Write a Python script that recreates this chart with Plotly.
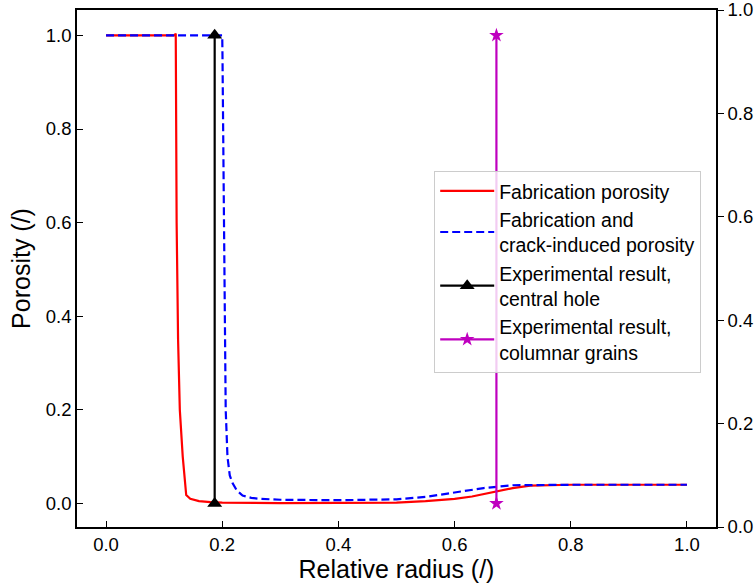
import plotly.graph_objects as go

# Fabrication porosity (red solid)
fab_r = [0.0, 0.118, 0.120, 0.1215, 0.124, 0.127, 0.132, 0.138, 0.145, 0.16, 0.18, 0.2, 0.3, 0.4,
         0.5, 0.55, 0.6, 0.63, 0.65, 0.68, 0.7, 0.73, 0.75, 0.8, 0.9, 1.0]
fab_p = [1.0, 1.0, 1.004, 0.6, 0.35, 0.2, 0.1, 0.018, 0.01, 0.005, 0.003, 0.002, 0.001, 0.001,
         0.002, 0.005, 0.01, 0.015, 0.02, 0.028, 0.033, 0.038, 0.039, 0.04, 0.04, 0.04]

# Fabrication and crack-induced porosity (blue dashed)
crack_r = [0.0, 0.2, 0.2005, 0.204, 0.206, 0.209, 0.213, 0.218, 0.225, 0.235, 0.25, 0.265, 0.3,
           0.4, 0.5, 0.55, 0.6, 0.65, 0.7, 0.75, 0.8, 0.9, 1.0]
crack_p = [1.0, 1.0, 0.95, 0.5, 0.2, 0.1, 0.06, 0.043, 0.028, 0.017, 0.012, 0.01, 0.008,
           0.007, 0.009, 0.014, 0.024, 0.033, 0.039, 0.04, 0.04, 0.04, 0.04]

# Experimental results
hole_r = [0.187, 0.187]
hole_p = [0.0, 1.0]
grain_r = [0.672, 0.672]
grain_p = [0.0, 1.0]

x_ticks = [0.0, 0.2, 0.4, 0.6, 0.8, 1.0]
y_ticks = [0.0, 0.2, 0.4, 0.6, 0.8, 1.0]

FONT = "Liberation Sans, Arial, Helvetica, sans-serif"

fig = go.Figure()
fig.add_trace(go.Scatter(x=fab_r, y=fab_p, mode="lines", name="Fabrication porosity",
                         line=dict(color="#ff0000", width=2.2)))
fig.add_trace(go.Scatter(x=crack_r, y=crack_p, mode="lines",
                         name="Fabrication and<br>crack-induced porosity",
                         line=dict(color="#0000ff", width=2.2, dash="8px,4px")))
fig.add_trace(go.Scatter(x=hole_r, y=hole_p, mode="lines+markers",
                         name="Experimental result,<br>central hole",
                         line=dict(color="#000000", width=2.2),
                         marker=dict(symbol="triangle-up", size=13, color="#000000")))
fig.add_trace(go.Scatter(x=grain_r, y=grain_p, mode="lines+markers",
                         name="Experimental result,<br>columnar grains",
                         line=dict(color="#bf00bf", width=2.2),
                         marker=dict(symbol="star", size=11, color="#bf00bf")))
# invisible trace to activate right axis
fig.add_trace(go.Scatter(x=[0], y=[0], yaxis="y2", mode="markers", showlegend=False,
                         marker=dict(opacity=0), hoverinfo="skip"))

def axis_style(direction):
    return dict(showgrid=False, zeroline=False, showline=True, linecolor="black", linewidth=1.6,
                ticks=direction, ticklen=6, tickwidth=1.3, tickcolor="black", automargin=False,
                ticklabeloverflow="allow",
                tickfont=dict(family=FONT, size=18.5, color="black"))

fig.update_layout(
    width=754, height=586,
    margin=dict(l=77, r=38, t=10, b=59),
    paper_bgcolor="white", plot_bgcolor="white",
    font=dict(family=FONT, color="black"),
    xaxis=dict(range=[-0.05, 1.05], tickvals=x_ticks, ticktext=[f"{v:.1f}" for v in x_ticks],
               mirror=True,
               title=dict(text="Relative radius (/)", font=dict(family=FONT, size=25), standoff=4),
               **axis_style("inside")),
    yaxis=dict(range=[-0.0502, 1.0542], tickvals=y_ticks, ticktext=[f"{v:.1f}" for v in y_ticks],
               title=dict(text="Porosity (/)", font=dict(family=FONT, size=25), standoff=8),
               **axis_style("inside")),
    yaxis2=dict(range=[0, 1], overlaying="y", side="right", anchor="x",
                tickvals=y_ticks, ticktext=[f"{v:.1f}" for v in y_ticks], **axis_style("outside")),
    legend=dict(x=0.559, y=0.689, xanchor="left", yanchor="top",
                bgcolor="rgba(255,255,255,0.8)", bordercolor="#cccccc", borderwidth=1,
                font=dict(family=FONT, size=19.5, color="black"), tracegroupgap=0,
                itemwidth=54),
    showlegend=True,
)

fig.write_html("out.html")
